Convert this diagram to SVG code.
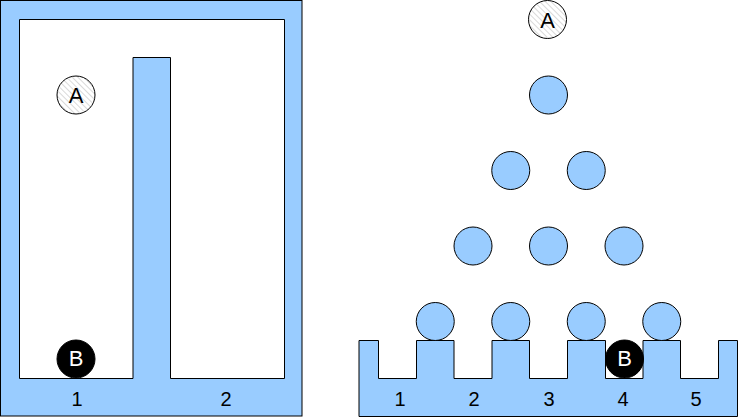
<svg xmlns="http://www.w3.org/2000/svg" width="738" height="417" viewBox="0 0 738 417">
<defs>
<pattern id="hatch" patternUnits="userSpaceOnUse" width="4" height="4" patternTransform="rotate(-45)">
<rect width="4" height="4" fill="#ffffff"/>
<line x1="0" y1="0" x2="0" y2="4" stroke="#b3b3b3" stroke-width="1"/>
</pattern>
</defs>
<style>
.blue{fill:#99ccff;stroke:#000;stroke-width:1}
.white{fill:#fff;stroke:#000;stroke-width:1}
.ba{fill:url(#hatch);stroke:#000;stroke-width:1}
.bb{fill:#000;stroke:#000;stroke-width:1}
.t{font-family:"Liberation Sans",Arial,sans-serif;font-size:20px;text-anchor:middle;fill:#000}
.tc{font-family:"Liberation Sans",Arial,sans-serif;font-size:22px;text-anchor:middle;fill:#000}
.tw{font-family:"Liberation Sans",Arial,sans-serif;font-size:22px;text-anchor:middle;fill:#fff}
</style>
<g id="left-box">
<rect class="blue" x="0.5" y="0.5" width="301.5" height="415.5"/>
<path class="white" d="M19.5,19.5 H284.5 V378.5 H170.5 V57.5 H133 V378.5 H19.5 Z"/>
<text class="t" x="77" y="406">1</text>
<text class="t" x="226" y="406">2</text>
</g>
<g id="left-A">
<circle class="ba" cx="76" cy="95" r="19"/>
<text class="tc" x="76" y="103">A</text>
</g>
<g id="left-B">
<circle class="bb" cx="76" cy="359" r="19"/>
<text class="tw" x="76" y="366">B</text>
</g>
<g id="comb">
<path class="blue" d="M359,340.5 H378.5 V378.5 H416.5 V340.5 H454 V378.5 H492 V340.5 H529.5 V378.5 H567.5 V340.5 H605.5 V378.5 H643 V340.5 H680.5 V378.5 H718.5 V340.5 H737.5 V416.5 H359 Z"/>
<text class="t" x="400" y="406">1</text>
<text class="t" x="474" y="406">2</text>
<text class="t" x="549" y="406">3</text>
<text class="t" x="623" y="406">4</text>
<text class="t" x="696" y="406">5</text>
</g>
<g id="pegs">
<circle class="blue" cx="548.5" cy="95" r="19"/>
<circle class="blue" cx="510.75" cy="170.5" r="19"/>
<circle class="blue" cx="586.25" cy="170.5" r="19"/>
<circle class="blue" cx="473" cy="246" r="19"/>
<circle class="blue" cx="548.5" cy="246" r="19"/>
<circle class="blue" cx="624" cy="246" r="19"/>
<circle class="blue" cx="435.25" cy="321.5" r="19"/>
<circle class="blue" cx="510.75" cy="321.5" r="19"/>
<circle class="blue" cx="586.25" cy="321.5" r="19"/>
<circle class="blue" cx="661.75" cy="321.5" r="19"/>
</g>
<g id="right-A">
<circle class="ba" cx="547.5" cy="19.5" r="19"/>
<text class="tc" x="547.5" y="27.5">A</text>
</g>
<g id="right-B">
<circle class="bb" cx="624.5" cy="359" r="19"/>
<text class="tw" x="624.5" y="366">B</text>
</g>
<g id="connectors"></g>
</svg>
